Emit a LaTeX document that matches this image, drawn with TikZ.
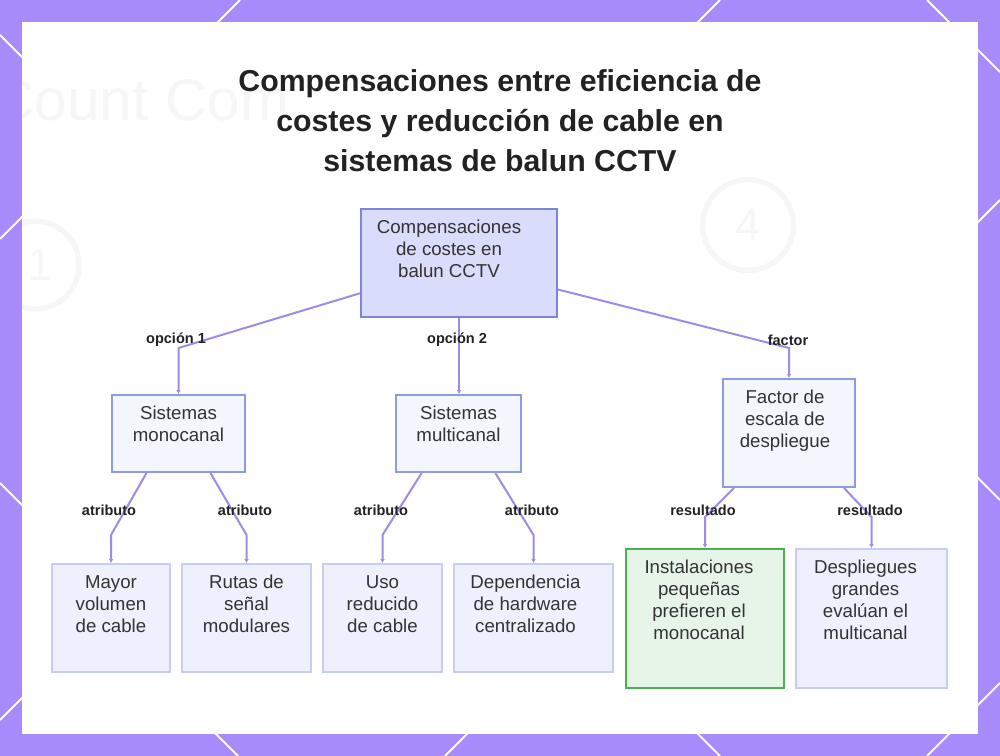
\documentclass[tikz,border=0pt]{standalone}
\usepackage{fontspec}
\setmainfont{Liberation Sans}
\usetikzlibrary{arrows.meta}
\pgfdeclarelayer{bglayer}
\pgfdeclarelayer{edgelayer}
\pgfdeclarelayer{nodelayer}
\pgfsetlayers{bglayer,nodelayer,main,edgelayer}

\definecolor{bgpurple}{HTML}{A78BFA}
\definecolor{ink}{HTML}{333333}
\definecolor{titleink}{HTML}{222222}
\definecolor{edgepurple}{HTML}{A08AE8}
\definecolor{rootfill}{HTML}{D9DCFB}
\definecolor{rootline}{HTML}{7C86D8}
\definecolor{midfill}{HTML}{F4F6FE}
\definecolor{midline}{HTML}{8D9BE6}
\definecolor{leaffill}{HTML}{EEF1FD}
\definecolor{leafline}{HTML}{C7CDF5}
\definecolor{okfill}{HTML}{E7F5E8}
\definecolor{okline}{HTML}{4CAF50}
\definecolor{ghost}{HTML}{F6F6F6}

\tikzset{
  cardbox/.style={draw, line width=1.5pt, inner sep=0pt},
  rootbox/.style={cardbox, draw=rootline, fill=rootfill},
  midbox/.style={cardbox, draw=midline, fill=midfill},
  leafbox/.style={cardbox, draw=leafline, fill=leaffill},
  okbox/.style={cardbox, draw=okline, fill=okfill},
  boxtext/.style={anchor=north, yshift=-9pt, align=center, inner sep=0pt, text=ink,
    font=\fontsize{14pt}{16.5pt}\selectfont},
  edgetag/.style={inner sep=0pt, text=titleink, font=\bfseries\fontsize{10.9pt}{12pt}\selectfont},
  titletext/.style={align=center, inner sep=0pt, text=titleink, font=\bfseries\fontsize{22.7pt}{30pt}\selectfont},
  link/.style={draw=edgepurple, line width=1.5pt, -{Latex[length=3pt,width=3.5pt]}},
  deco/.style={draw=white, line width=1.5pt},
}

\begin{document}
\begin{tikzpicture}[x=0.75pt, y=-0.75pt]
	\useasboundingbox (0,0) rectangle (1000,756);
	\begin{pgfonlayer}{bglayer}
		\fill[bgpurple] (0,0) rectangle (1000,756);
		% white strokes in the border
		\foreach \a/\b/\c/\d in {240/0/200/40, 720/0/680/40, 0/239/40/199, 0/720/40/680,
				445/756/485/716, 927/756/967/716, 1000/200/960/240, 1000/683/960/723}
			\draw[deco] (\a,\b) -- (\c,\d);
		\foreach \a/\b/\c/\d in {927/0/967/40, 0/35/40/75, 0/483/40/523, 238/756/198/716,
				720/756/680/716, 1000/72/960/32, 1000/500/960/460}
			\draw[deco] (\a,\b) -- (\c,\d);
		\fill[white] (22,22) rectangle (978,734);
		% faded picture behind the chart
		\begin{scope}
			\clip (22,22) rectangle (978,734);
			\node[anchor=west, inner sep=0pt, text=ghost, font=\fontsize{44pt}{44pt}\selectfont] (g0) at (-8,100) {Count Com};
			\draw[ghost, line width=4pt] (35,265) circle[radius=33pt];
			\node[text=ghost, font=\fontsize{34pt}{34pt}\selectfont] (g1) at (40,265) {1};
			\draw[ghost, line width=4pt] (748,225) circle[radius=34pt];
			\node[text=ghost, font=\fontsize{34pt}{34pt}\selectfont] (g2) at (748,225) {4};
		\end{scope}
	\end{pgfonlayer}
	\begin{pgfonlayer}{nodelayer}
		\node[titletext] (10) at (500,121) {Compensaciones entre eficiencia de\\costes y reducción de cable en\\sistemas de balun CCTV};
		\node[rootbox, minimum width=147pt, minimum height=81pt,
			label={[boxtext, xshift=-7.5pt]north:{Compensaciones\\de costes en\\balun CCTV}}] (0) at (459,263) {};
		\node[midbox, minimum width=99.75pt, minimum height=57.75pt,
			label={[boxtext]north:{Sistemas\\monocanal}}] (1) at (178.5,433.5) {};
		\node[midbox, minimum width=93.75pt, minimum height=57.75pt,
			label={[boxtext]north:{Sistemas\\multicanal}}] (2) at (458.5,433.5) {};
		\node[midbox, minimum width=99pt, minimum height=81pt,
			label={[boxtext, xshift=-3pt]north:{Factor de\\escala de\\despliegue}}] (3) at (789,433) {};
		\node[leafbox, minimum width=88.5pt, minimum height=81pt,
			label={[boxtext]north:{Mayor\\volumen\\de cable}}] (4) at (111,618) {};
		\node[leafbox, minimum width=96.75pt, minimum height=81pt,
			label={[boxtext]north:{Rutas de\\señal\\modulares}}] (5) at (246.5,618) {};
		\node[leafbox, minimum width=89.25pt, minimum height=81pt,
			label={[boxtext]north:{Uso\\reducido\\de cable}}] (6) at (382.5,618) {};
		\node[leafbox, minimum width=119.25pt, minimum height=81pt,
			label={[boxtext, xshift=-6pt]north:{Dependencia\\de hardware\\centralizado}}] (7) at (533.5,618) {};
		\node[okbox, minimum width=118.5pt, minimum height=104.25pt,
			label={[boxtext, xshift=-4.5pt]north:{Instalaciones\\pequeñas\\prefieren el\\monocanal}}] (8) at (705,618.5) {};
		\node[leafbox, minimum width=113.25pt, minimum height=104.25pt,
			label={[boxtext, xshift=-4.5pt]north:{Despliegues\\grandes\\evalúan el\\multicanal}}] (9) at (871.5,618.5) {};
	\end{pgfonlayer}
	\begin{pgfonlayer}{edgelayer}
		\coordinate (c1) at (178.5,348);
		\coordinate (c3) at (789,348);
		\coordinate (c4) at (111,535);
		\coordinate (c5) at (246.5,535);
		\coordinate (c6) at (382.5,535);
		\coordinate (c7) at (533.5,535);
		\coordinate (c8) at (705,517);
		\coordinate (c9) at (871.5,517);
		\draw[link] (0.197) to (c1) to (1.north);
		\draw[link] (0.south) to (0.south |- 2.north);
		\draw[link] (0.-15) to (c3) to (3.north);
		\draw[link] (1.231) to (c4) to (4.north);
		\draw[link] (1.309) to (c5) to (5.north);
		\draw[link] (2.227) to (c6) to (6.north);
		\draw[link] (2.313) to (c7) to (7.north);
		\draw[link] (3.225) to (c8) to (8.north);
		\draw[link] (3.315) to (c9) to (9.north);
		\node[edgetag] (20) at (176,340) {opción 1};
		\node[edgetag] (21) at (457,340) {opción 2};
		\node[edgetag] (22) at (788,340) {factor};
		\node[edgetag] (23) at (109,510) {atributo};
		\node[edgetag] (24) at (245,510) {atributo};
		\node[edgetag] (25) at (381,510) {atributo};
		\node[edgetag] (26) at (532,510) {atributo};
		\node[edgetag] (27) at (703,510) {resultado};
		\node[edgetag] (28) at (870,510) {resultado};
	\end{pgfonlayer}
\end{tikzpicture}
\end{document}
